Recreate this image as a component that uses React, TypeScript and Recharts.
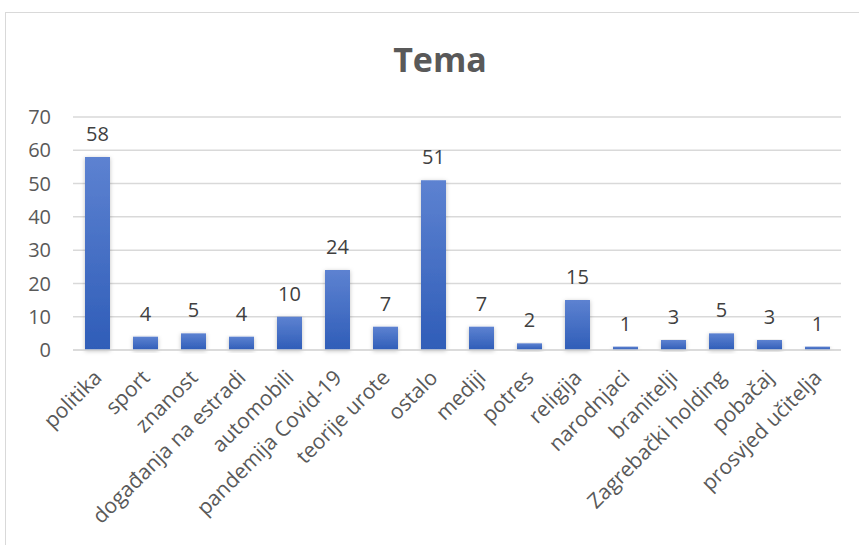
import { BarChart, Bar, XAxis, YAxis, CartesianGrid, LabelList } from 'recharts';

const categories = [
  'politika',
  'sport',
  'znanost',
  'događanja na estradi',
  'automobili',
  'pandemija Covid-19',
  'teorije urote',
  'ostalo',
  'mediji',
  'potres',
  'religija',
  'narodnjaci',
  'branitelji',
  'Zagrebački holding',
  'pobačaj',
  'prosvjed učitelja',
];
const counts = [58, 4, 5, 4, 10, 24, 7, 51, 7, 2, 15, 1, 3, 5, 3, 1];
const yTicks = [0, 10, 20, 30, 40, 50, 60, 70];

const data = categories.map((name, i) => ({ name, value: counts[i] }));

const FONT = '"Open Sans", "Noto Sans", sans-serif';
const GREY_TEXT = '#595959';
const GRID = '#d9d9d9';

// rotated category label, anchored at its end just under the tick
function CategoryTick(props: any) {
  const { x, y, payload } = props;
  return (
    <g transform={`translate(${x + 6},${y + 21})`}>
      <text
        transform="rotate(-45)"
        textAnchor="end"
        fontSize={21}
        fontFamily={FONT}
        fill={GREY_TEXT}
      >
        {payload.value}
      </text>
    </g>
  );
}

export default function App() {
  return (
    <div
      style={{
        position: 'absolute',
        left: 0,
        top: 0,
        width: 859,
        height: 545,
        overflow: 'hidden',
        background: '#fff',
      }}
    >
      <div
        style={{
          position: 'absolute',
          left: 5,
          top: 12,
          width: 900,
          height: 600,
          border: '1px solid #d9d9d9',
        }}
      />
      <div
        style={{
          position: 'absolute',
          left: 0,
          width: 880,
          top: 36,
          textAlign: 'center',
          fontFamily: FONT,
          fontWeight: 700,
          fontSize: 34,
          color: GREY_TEXT,
        }}
      >
        Tema
      </div>
      <BarChart
        width={859}
        height={545}
        data={data}
        margin={{ top: 117, right: 18, left: 0, bottom: 0 }}
        barSize={25}
        style={{ position: 'absolute', left: 0, top: 0 }}
      >
        <defs>
          <linearGradient id="barFill" x1="0" y1="0" x2="0" y2="1">
            <stop offset="0%" stopColor="#5d82d1" />
            <stop offset="100%" stopColor="#2f5db8" />
          </linearGradient>
          <filter id="barShadow" x="-30%" y="-10%" width="160%" height="130%">
            <feDropShadow dx="0" dy="1" stdDeviation="2" floodColor="#000" floodOpacity="0.25" />
          </filter>
        </defs>
        <CartesianGrid vertical={false} stroke={GRID} strokeWidth={1.5} />
        <XAxis
          dataKey="name"
          interval={0}
          height={195}
          tickLine={false}
          axisLine={{ stroke: GRID, strokeWidth: 1.5 }}
          tick={<CategoryTick />}
        />
        <YAxis
          domain={[0, 70]}
          ticks={yTicks}
          width={73}
          axisLine={false}
          tickLine={false}
          tickSize={0}
          tickMargin={22}
          tick={{ fontSize: 20, fontFamily: FONT, fill: GREY_TEXT }}
        />
        <Bar
          dataKey="value"
          fill="url(#barFill)"
          filter="url(#barShadow)"
          isAnimationActive={false}
        >
          <LabelList
            dataKey="value"
            position="top"
            offset={16}
            fontSize={20}
            fontFamily={FONT}
            fill="#404040"
          />
        </Bar>
      </BarChart>
    </div>
  );
}
